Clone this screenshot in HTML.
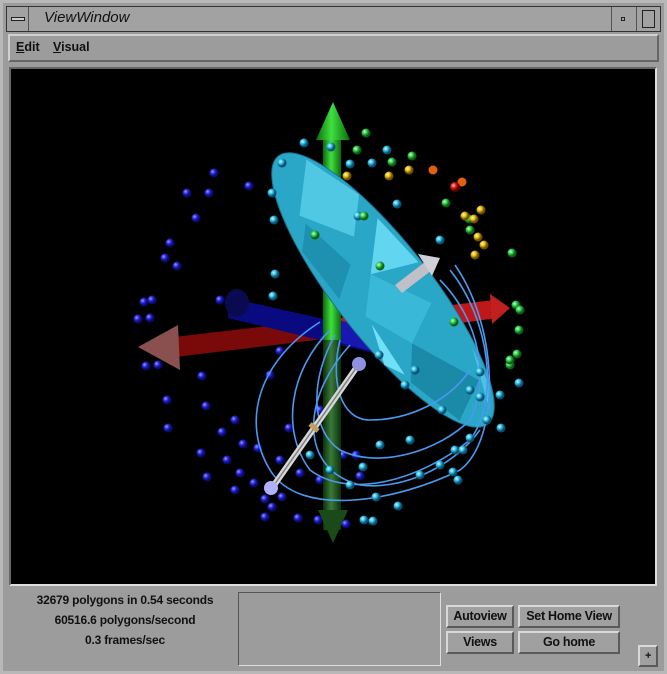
<!DOCTYPE html>
<html><head><meta charset="utf-8"><style>
body{margin:0;width:667px;height:674px;overflow:hidden;background:#9c9c9c;font-family:"Liberation Sans",sans-serif;}
.abs{position:absolute;box-sizing:border-box;}
.btn{position:absolute;box-sizing:border-box;background:#a0a0a0;border:2px solid;border-color:#d8d8d8 #5a5a5a #5a5a5a #d8d8d8;font-size:12.5px;font-weight:bold;color:#111;text-align:center;line-height:18px;letter-spacing:-0.3px;}
.stat{position:absolute;left:10px;width:230px;text-align:center;font-size:12px;font-weight:bold;color:#111;letter-spacing:-0.2px;}
</style></head><body>
<div class="abs" style="left:0;top:0;width:667px;height:674px;border:3px solid #b8b8b8;background:#9c9c9c"></div>
<div class="abs" style="left:6px;top:6px;width:655px;height:26px;border:1px solid #333;background:#a2a2a2"></div>
<div class="abs" style="left:7px;top:7px;width:22px;height:24px;border-right:1px solid #555"><div class="abs" style="left:4px;top:10px;width:14px;height:4px;border:1px solid #222;background:#ccc"></div></div>
<div class="abs" style="left:44px;top:9px;font-size:15px;font-style:italic;color:#111">ViewWindow</div>
<div class="abs" style="left:611px;top:7px;width:22px;height:24px;border-left:1px solid #555"><div class="abs" style="left:9px;top:10px;width:4px;height:4px;border:1px solid #222"></div></div>
<div class="abs" style="left:636px;top:7px;width:24px;height:24px;border-left:1px solid #555"><div class="abs" style="left:5px;top:3px;width:13px;height:18px;border:1px solid #222"></div></div>
<div class="abs" style="left:8px;top:34px;width:651px;height:28px;border:2px solid;border-color:#d0d0d0 #666 #666 #d0d0d0;background:#9c9c9c"></div>
<div class="abs" style="left:16px;top:40px;font-size:12.5px;font-weight:bold;color:#111"><u>E</u>dit</div>
<div class="abs" style="left:53px;top:40px;font-size:12.5px;font-weight:bold;color:#111"><u>V</u>isual</div>
<div class="abs" style="left:9px;top:67px;width:648px;height:519px;border:2px solid;border-color:#666 #ddd #ddd #666"></div>
<svg class="abs" style="left:11px;top:69px" width="644" height="515" viewBox="11 69 644 515">
<defs>
<radialGradient id="gb" cx=".35" cy=".35"><stop offset="0" stop-color="#9aa0ff"/><stop offset=".5" stop-color="#2a2ae0"/><stop offset="1" stop-color="#0a0a70"/></radialGradient>
<radialGradient id="gc" cx=".35" cy=".35"><stop offset="0" stop-color="#d0f8ff"/><stop offset=".5" stop-color="#30c0e8"/><stop offset="1" stop-color="#0a5070"/></radialGradient>
<radialGradient id="gg" cx=".35" cy=".35"><stop offset="0" stop-color="#d0ffd0"/><stop offset=".5" stop-color="#30d050"/><stop offset="1" stop-color="#0a6010"/></radialGradient>
<radialGradient id="gy" cx=".35" cy=".35"><stop offset="0" stop-color="#ffffc0"/><stop offset=".5" stop-color="#e8c010"/><stop offset="1" stop-color="#705000"/></radialGradient>
<radialGradient id="gr" cx=".35" cy=".35"><stop offset="0" stop-color="#ffc0c0"/><stop offset=".5" stop-color="#e02010"/><stop offset="1" stop-color="#600000"/></radialGradient>
<linearGradient id="gv" x1="0" x2="1"><stop offset="0" stop-color="#0a6a0a"/><stop offset=".45" stop-color="#40e040"/><stop offset="1" stop-color="#0a6a0a"/></linearGradient>
<linearGradient id="gvd" x1="0" x2="1"><stop offset="0" stop-color="#0a300a"/><stop offset=".45" stop-color="#3a7a3a"/><stop offset="1" stop-color="#0a300a"/></linearGradient>
</defs>
<rect x="11" y="69" width="644" height="515" fill="#000"/>
<g id="scene"></g>
</svg>
<div class="abs" style="left:0;top:586px;width:240px;height:80px"></div>
<div class="stat" style="top:593px">32679 polygons in 0.54 seconds</div>
<div class="stat" style="top:613px">60516.6 polygons/second</div>
<div class="stat" style="top:633px">0.3 frames/sec</div>
<div class="abs" style="left:238px;top:592px;width:203px;height:74px;border:1px solid;border-color:#555 #ddd #ddd #555;background:#9c9c9c"></div>
<div class="btn" style="left:446px;top:605px;width:68px;height:23px">Autoview</div>
<div class="btn" style="left:518px;top:605px;width:102px;height:23px">Set Home View</div>
<div class="btn" style="left:446px;top:631px;width:68px;height:23px">Views</div>
<div class="btn" style="left:518px;top:631px;width:102px;height:23px">Go home</div>
<div class="btn" style="left:638px;top:645px;width:20px;height:22px;font-size:11px">+</div>
<script>
const blueX=[187,209,214,196,170,177,165,152,144,138,150,166,146,158,167,168,206,222,201,227,240,207,235,265,298,318,335,346,272,254,280,249,220,235,243,258,280,270,202,205,320,343,320,300,265,282,289,360,356];
const blueY=[193,193,173,218,243,266,258,300,302,319,318,340,366,365,400,428,406,432,453,460,473,477,490,499,518,520,519,524,507,483,460,186,300,420,444,448,351,375,376,339,410,455,480,473,517,497,428,476,455];
const cyanX=[304,282,331,350,372,387,272,274,275,273,358,397,440,480,487,470,455,440,420,398,376,364,373,350,330,310,363,380,410,453,500,519,379,405,442,463,480,415,458,470,501];
const cyanY=[143,163,147,164,163,150,193,220,274,296,216,204,240,397,420,438,450,465,475,506,497,520,521,485,470,455,467,445,440,472,395,383,355,385,410,450,372,370,480,390,428];
const greenX=[366,357,412,392,446,469,512,516,520,519,510,517,454,380,364,315,470,510];
const greenY=[133,150,156,162,203,219,253,305,310,330,365,354,322,266,216,235,230,360];
const yellowX=[389,409,347,481,474,478,475,484,465];
const yellowY=[176,170,176,210,219,237,255,245,216];
const orangeX=[433,462];const orangeY=[170,182];
const redX=[455];const redY=[187];
const sc=document.getElementById('scene');
const NS='http://www.w3.org/2000/svg';
function mk(t,a,p){const e=document.createElementNS(NS,t);for(const k in a)e.setAttribute(k,a[k]);(p||sc).appendChild(e);return e;}
function dots(xs,ys,fill,r,name){for(let i=0;i<xs.length;i++){const c=mk('circle',{cx:xs[i],cy:ys[i],r:r,fill:fill});

}}
dots(blueX,blueY,'url(#gb)',4.5,'blue-sphere');
// red axis
let e=mk('polygon',{points:'165,338 495,300 497,318 167,358',fill:'#7a0a0a'});


mk('polygon',{points:'340,318 495,300 497,318 340,340',fill:'#c01818'});
mk('polygon',{points:'490,294 510,308 492,324',fill:'#c02020'});
e=mk('polygon',{points:'138,347 178,325 180,370',fill:'#8a5050'});


// blue arrow
e=mk('polygon',{points:'230,298 440,345 436,368 228,318',fill:'#0a0a80'});


mk('polygon',{points:'330,318 440,345 436,368 330,340',fill:'#1818b0'});
mk('ellipse',{cx:440,cy:352,rx:10,ry:18,fill:'#1a1ad0'});
mk('polygon',{points:'440,334 468,353 440,370',fill:'#1010c0'});
mk('ellipse',{cx:237,cy:303,rx:12,ry:14,fill:'#0a0a50'});
// green axis
e=mk('rect',{x:323,y:140,width:18,height:390,fill:'url(#gvd)'});


mk('rect',{x:323,y:140,width:18,height:200,fill:'url(#gv)'});
mk('polygon',{points:'316,140 350,140 333,102',fill:'url(#gv)'});
mk('polygon',{points:'318,510 348,510 333,543',fill:'#1a4a1a'});
// cyan blob (rotated ellipse with facets)
e=mk('g',{transform:'translate(383,290) rotate(52)'});


mk('ellipse',{cx:0,cy:0,rx:170,ry:48,fill:'#2aa6c6',stroke:'#1a7090','stroke-width':1},e);
mk('polygon',{points:'-150,-20 -90,-40 -60,-10 -110,20',fill:'#50c8e4'},e);
mk('polygon',{points:'-60,-40 0,-45 -20,0',fill:'#62d6f0'},e);
mk('polygon',{points:'-20,0 40,-30 60,10 10,30',fill:'#3ab8d8'},e);
mk('polygon',{points:'60,10 130,-20 150,20 90,35',fill:'#1a8aa8'},e);
mk('polygon',{points:'-100,20 -40,10 -20,40 -80,40',fill:'#1e90b0'},e);
mk('polygon',{points:'20,30 80,35 60,45',fill:'#70e0f8'},e);
mk('polygon',{points:'100,-35 160,-10 140,-25',fill:'#48c4e0'},e);
// gray arrow
mk('polygon',{points:'395,285 425,262 432,270 402,293',fill:'#c0c0c8'});
mk('polygon',{points:'418,254 440,258 432,276',fill:'#d0d0d8'});
// wires
const wires=['M320,322 C260,360 240,420 270,470 C300,520 400,500 460,470 C500,440 500,330 455,265',
'M330,330 C290,370 280,430 310,470 C350,500 420,480 470,440 C500,400 490,320 450,270',
'M335,335 C310,380 310,430 340,450 C380,470 440,450 470,420 C490,380 480,320 440,280',
'M340,340 C330,380 340,420 370,420 C410,420 450,400 470,370',
'M350,345 C300,400 300,470 360,485 C400,490 450,470 480,430'];
wires.forEach(d=>{const w=mk('path',{d:d,fill:'none',stroke:'#4a98f0','stroke-width':1.6});

});
// rod
e=mk('line',{x1:272,y1:488,x2:359,y2:364,stroke:'#d8d8d8','stroke-width':6});


mk('line',{x1:272,y1:488,x2:359,y2:364,stroke:'#808080','stroke-width':1.5});
mk('circle',{cx:271,cy:488,r:7,fill:'#b0b0ff'});
mk('circle',{cx:359,cy:364,r:7,fill:'#9090e0'});
mk('line',{x1:310,y1:424,x2:318,y2:431,stroke:'#c0a060','stroke-width':5});
dots(cyanX,cyanY,'url(#gc)',4.5,'cyan-sphere');
dots(greenX,greenY,'url(#gg)',4.5,'green-sphere');
dots(yellowX,yellowY,'url(#gy)',4.5,'yellow-sphere');
dots(orangeX,orangeY,'#e06010',4.5,'orange-sphere');
dots(redX,redY,'url(#gr)',5,'red-sphere');
</script>
</body></html>
